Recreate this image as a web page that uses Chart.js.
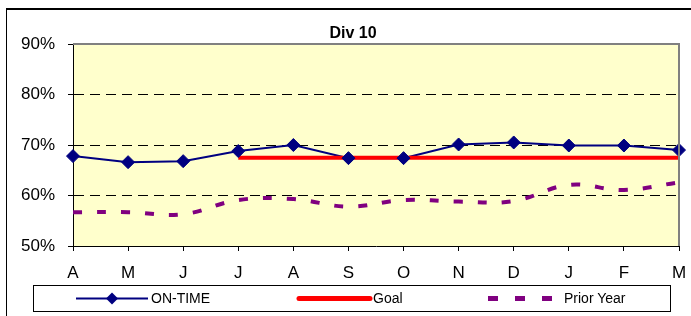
<!DOCTYPE html>
<html>
<head>
<meta charset="utf-8">
<script src="https://cdn.jsdelivr.net/npm/chart.js@4.4.1/dist/chart.umd.min.js"></script>
<style>
  html, body { margin: 0; padding: 0; background: #fff; }
  #wrap { position: relative; width: 691px; height: 316px; overflow: hidden; font-family: Arial, "Liberation Sans", sans-serif; }
  #frame { position: absolute; left: 6px; top: 8px; width: 700px; height: 320px; border-left: 1px solid #000; border-top: 2px solid #000; box-sizing: border-box; }
  #title { position: absolute; left: 253px; width: 200px; top: 24px; text-align: center; font-weight: bold; font-size: 16px; line-height: 18px; }
  #legend { position: absolute; left: 33px; top: 285px; width: 638px; height: 27px; border: 1px solid #000; box-sizing: border-box; font-size: 14px; }
  #legend svg { position: absolute; left: 0; top: 0; }
  #legend span { position: absolute; top: 4px; line-height: 16px; }
  canvas { position: absolute; left: 0; top: 0; }
</style>
</head>
<body>
<div id="wrap">
  <canvas id="divChart" width="691" height="316"></canvas>
  <div id="frame"></div>
  <div id="title">Div 10</div>
  <div id="legend">
    <svg width="636" height="25">
      <line x1="42" y1="12.5" x2="114" y2="12.5" stroke="#000080" stroke-width="2"/>
      <polygon points="78,6.5 84,12.5 78,18.5 72,12.5" fill="#000080"/>
      <line x1="265" y1="12.5" x2="336" y2="12.5" stroke="#ff0000" stroke-width="5" stroke-linecap="round"/>
      <line x1="454" y1="12.5" x2="520" y2="12.5" stroke="#800080" stroke-width="5" stroke-dasharray="10,17"/>
    </svg>
    <span style="left:117px">ON-TIME</span>
    <span style="left:339px">Goal</span>
    <span style="left:530px">Prior Year</span>
  </div>
</div>
<script>
// months of the fiscal year (April .. March)
const months = ["A", "M", "J", "J", "A", "S", "O", "N", "D", "J", "F", "M"];

// percentages
const onTime = [67.8, 66.6, 66.8, 68.8, 70.0, 67.4, 67.4, 70.1, 70.5, 69.9, 69.9, 69.0];
const goal = [null, null, null, 67.5, 67.5, 67.5, 67.5, 67.5, 67.5, 67.5, 67.5, 67.5];
const priorYear = [56.7, 56.7, 56.3, 59.1, 59.3, 57.8, 59.1, 58.8, 58.9, 62.1, 61.1, 62.6];

const yTicks = [50, 60, 70, 80, 90];

// yellow plot background + grey frame on top/right
const plotFrame = {
  id: "plotFrame",
  beforeDraw(chart) {
    const { ctx, chartArea: a } = chart;
    ctx.save();
    ctx.fillStyle = "#ffffcc";
    ctx.fillRect(a.left, a.top, a.right - a.left, a.bottom - a.top);
    ctx.restore();
  },
  afterDraw(chart) {
    const { ctx, chartArea: a } = chart;
    ctx.save();
    ctx.strokeStyle = "#808080";
    ctx.lineWidth = 2;
    ctx.beginPath();
    ctx.moveTo(a.left, a.top);
    ctx.lineTo(a.right, a.top);
    ctx.lineTo(a.right, a.bottom);
    ctx.stroke();
    ctx.restore();
  }
};

const ctx = document.getElementById("divChart").getContext("2d");
new Chart(ctx, {
  type: "line",
  data: {
    labels: months,
    datasets: [
      {
        // markers on top of everything
        label: "ON-TIME",
        data: onTime,
        showLine: false,
        pointStyle: "rectRot",
        pointRadius: 6.5,
        pointBackgroundColor: "#000080",
        pointBorderColor: "#000080",
        pointBorderWidth: 1,
        order: 0
      },
      {
        label: "Goal",
        data: goal,
        borderColor: "#ff0000",
        borderWidth: 4,
        pointRadius: 0,
        order: 1
      },
      {
        label: "ON-TIME line",
        data: onTime,
        borderColor: "#000080",
        borderWidth: 2,
        pointRadius: 0,
        order: 2
      },
      {
        label: "Prior Year",
        data: priorYear,
        borderColor: "#800080",
        borderWidth: 4,
        borderDash: [9, 15],
        tension: 0.4,
        pointRadius: 0,
        order: 3
      }
    ]
  },
  options: {
    responsive: false,
    animation: false,
    layout: { padding: { left: 0, top: 44, right: 12, bottom: 30 } },
    plugins: {
      legend: { display: false },
      title: { display: false },
      tooltip: { enabled: false }
    },
    scales: {
      x: {
        offset: false,
        afterFit: (s) => { s.height = 40; s.paddingRight = 0; s.paddingLeft = 0; },
        grid: {
          display: true,
          drawOnChartArea: false,
          drawTicks: true,
          tickLength: 5,
          color: "#000"
        },
        border: { color: "#000", width: 1 },
        ticks: {
          color: "#000",
          padding: 12,
          maxRotation: 0,
          autoSkip: false,
          font: { family: "Arial, 'Liberation Sans', sans-serif", size: 17 }
        }
      },
      y: {
        min: 50,
        max: 90,
        afterFit: (s) => { s.width = 73; },
        afterBuildTicks: (s) => { s.ticks = yTicks.map((v) => ({ value: v })); },
        grid: {
          drawTicks: true,
          tickLength: 5,
          tickColor: "#000",
          color: (c) => (c.tick && (c.tick.value === 50 || c.tick.value === 90) ? "rgba(0,0,0,0)" : "#000"),
          tickBorderDash: [0, 0]
        },
        border: { color: "#000", width: 1, dash: [10, 6] },
        ticks: {
          color: "#000",
          padding: 13,
          callback: (v) => v + "%",
          font: { family: "Arial, 'Liberation Sans', sans-serif", size: 17 }
        }
      }
    }
  },
  plugins: [plotFrame]
});
</script>
</body>
</html>
